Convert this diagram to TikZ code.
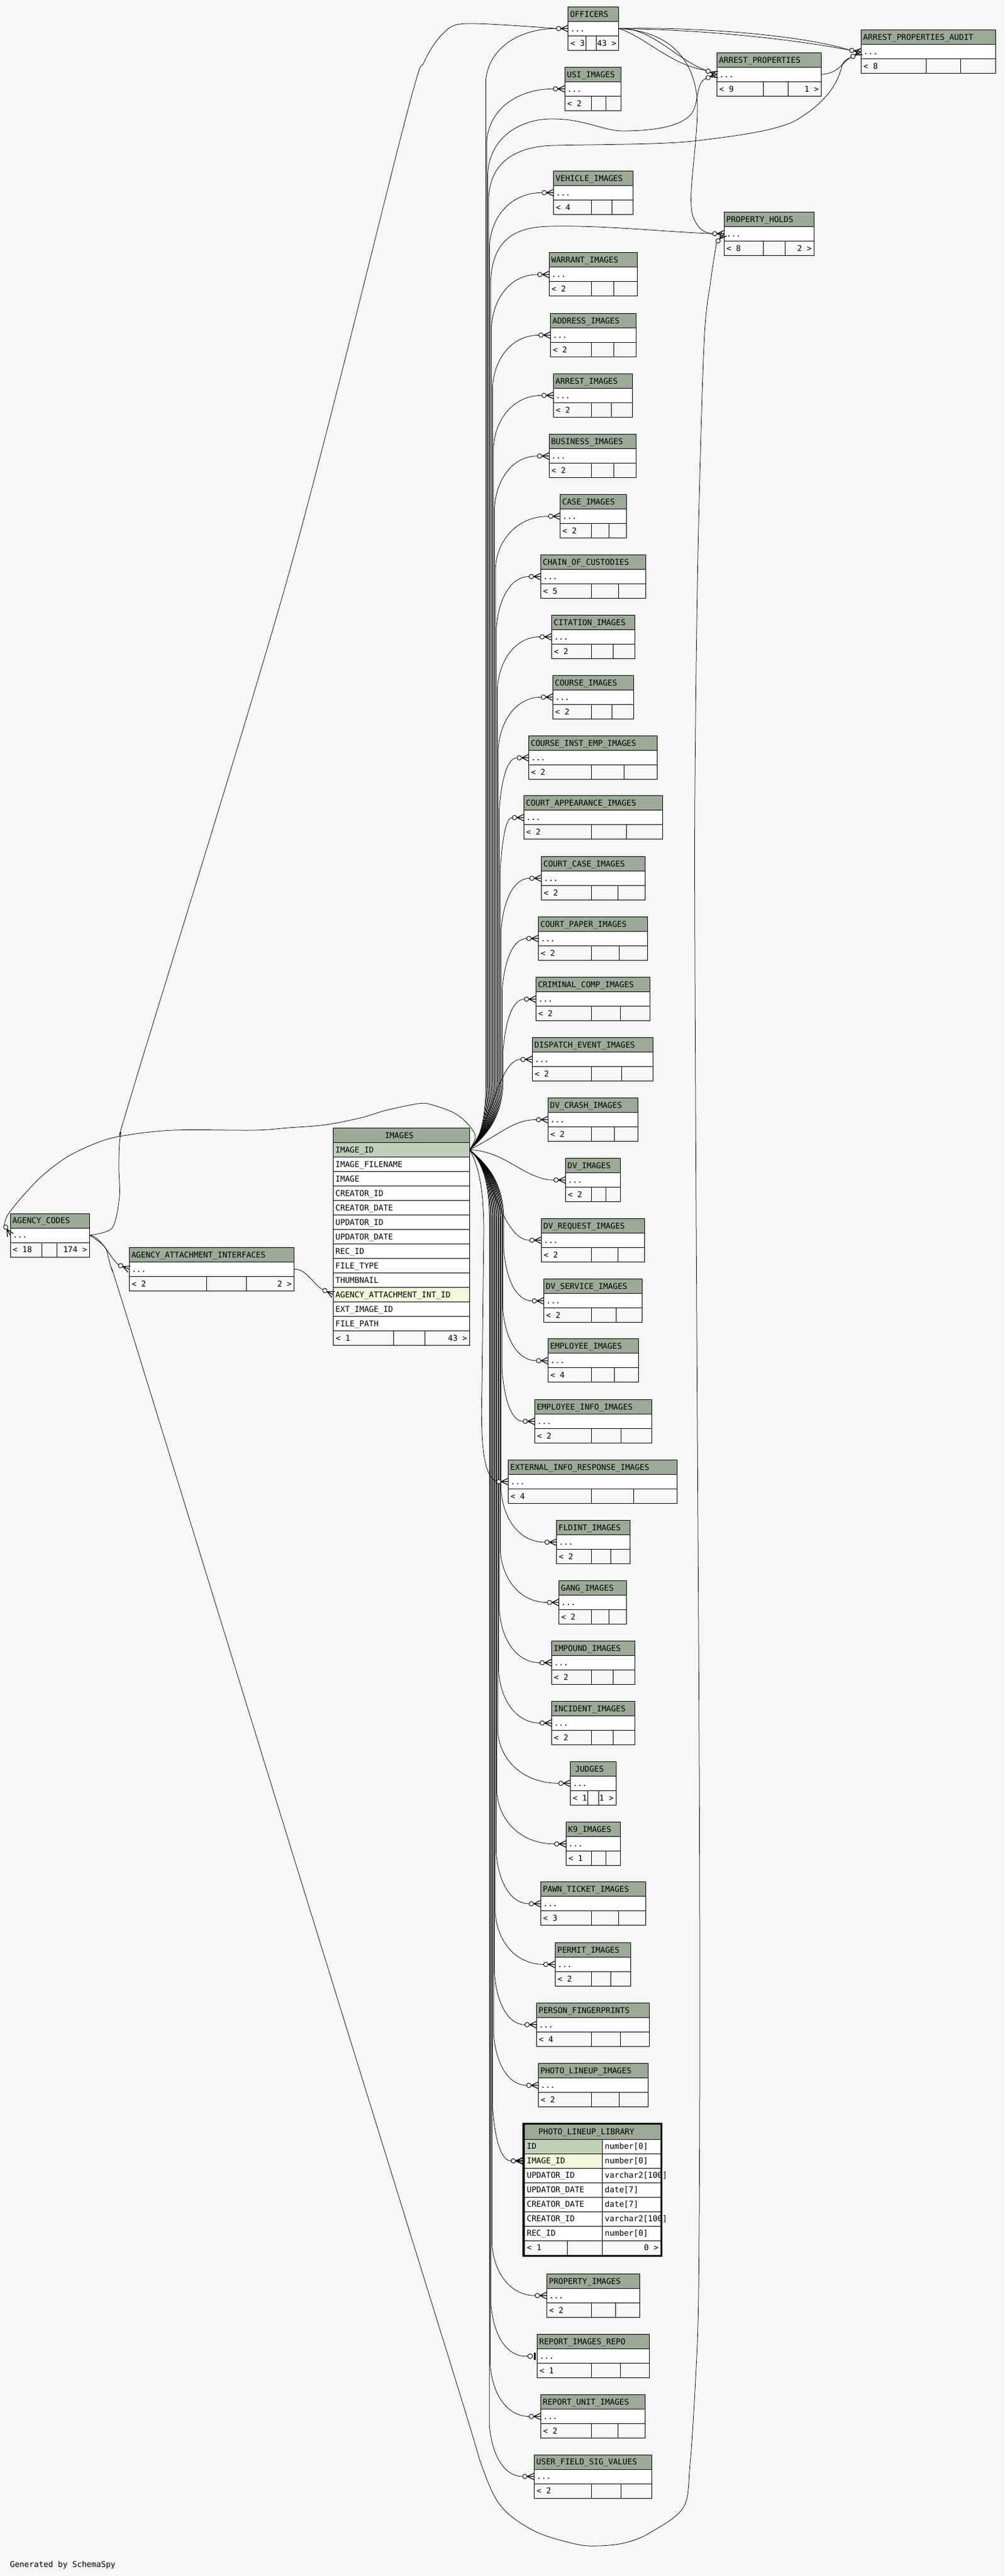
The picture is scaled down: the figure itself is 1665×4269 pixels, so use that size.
\documentclass[tikz,border=0pt]{standalone}
\usepackage{fontspec}
\newfontfamily\dmono{DejaVu Sans Mono}
\usetikzlibrary{calc}
\definecolor{bgc}{HTML}{F7F7F7}
\definecolor{hdrc}{HTML}{9BAB96}
\definecolor{pkc}{HTML}{BED1B8}
\definecolor{idxc}{HTML}{F4F7DA}
\pgfdeclarelayer{back}\pgfdeclarelayer{edges}\pgfsetlayers{back,edges,main}
\tikzset{
 fk/.style={line width=0.75pt, draw=black},
 cellb/.style={line width=1pt, draw=black},
 tt/.style={inner sep=0pt, outer sep=0pt, anchor=base west, font=\dmono\fontsize{13.2}{15}\selectfont},
 ttr/.style={tt, anchor=base east},
 crowodot/.pic={\draw[line width=0.9pt, fill=bgc] (-15.5,0) circle[radius=3.7]; \draw[line width=1.2pt] (-11.5,0) -- (0,5.5) (-11.5,0) -- (0,-5.5) (-11.5,0) -- (0,0);},
 boldcrow/.pic={\draw[line width=1pt, fill=bgc] (-15.5,0) circle[radius=3.7]; \draw[line width=2pt] (-11.5,0) -- (0,5) (-11.5,0) -- (0,-5) (-11.5,0) -- (0,0);},
 teeodot/.pic={\draw[line width=0.9pt] (-19.2,0) -- (-15.5,0); \draw[line width=0.9pt, fill=bgc] (-11.5,0) circle[radius=4]; \fill (-5,-6) rectangle (-2.5,6);}
}
% #1 key, #2 left, #3 right, #4 top, #5 title, #6 cell1 end, #7 cell2 end, #8 foot left, #9 foot right
\newcommand{\stbl}[9]{%
 \fill[hdrc] (#2,#4) rectangle (#3,#4+24);
 \fill[white] (#2,#4+24) rectangle (#3,#4+48);
 \draw[cellb] (#2,#4) rectangle (#3,#4+72) (#2,#4+24) -- (#3,#4+24) (#2,#4+48) -- (#3,#4+48) (#6,#4+48) -- (#6,#4+72) (#7,#4+48) -- (#7,#4+72);
 \node[tt] (#1-t) at (#2+3.5,#4+16.8) {#5};
 \node[tt] (#1-d) at (#2+4,#4+40.8) {...};
 \node[tt] (#1-fl) at (#2+4,#4+64.8) {#8};
 \node[ttr] (#1-fr) at (#3-4,#4+64.8) {#9};
 \coordinate (#1-in) at (#2,#4+36);
 \coordinate (#1-end) at (#2-19.2,#4+36);
 \coordinate (#1-out) at (#3,#4+36);
}
% upward / downward connectors from IMAGES.IMAGE_ID: #1 spine x, #2 target row y, #3 target key
\newcommand{\upE}[3]{\draw[fk] (img-port) .. controls (794,1890) and (#1,1862) .. (#1,1790) -- (#1,#2+85) .. controls (#1+4,#2+35) and ($(#1,#2)!0.45!(#3-end)$) .. (#3-end);}
\newcommand{\dnE}[3]{\draw[fk] (img-port) .. controls (794,1920) and (#1,1948) .. (#1,2020) -- (#1,#2-85) .. controls (#1+4,#2-35) and ($(#1,#2)!0.45!(#3-end)$) .. (#3-end);}
\begin{document}
\begin{tikzpicture}[x=1pt,y=-1pt]
\useasboundingbox (0,0) rectangle (1665,4269);
\begin{pgfonlayer}{back}
\fill[bgc] (0,0) rectangle (1665,4269);
\end{pgfonlayer}

% ---------------- tables ----------------
\stbl{officers}{941.5}{1025.7}{11.3}{OFFICERS}{971.1}{988.8}{< 3}{43 >}
\stbl{usi}{936.3}{1029.3}{111.3}{USI\_IMAGES}{980.5}{1004.4}{< 2}{}
\stbl{vehicle}{917.6}{1049.6}{283.3}{VEHICLE\_IMAGES}{980.5}{1014.8}{< 4}{}
\stbl{warrant}{910.3}{1056.3}{418.9}{WARRANT\_IMAGES}{980.3}{1017.7}{< 2}{}
\stbl{address}{912.3}{1054.3}{519.4}{ADDRESS\_IMAGES}{980.3}{1017.3}{< 2}{}
\stbl{arrest}{917.3}{1048.3}{619.3}{ARREST\_IMAGES}{980.3}{1013.3}{< 2}{}
\stbl{business}{910.0}{1054.3}{719.8}{BUSINESS\_IMAGES}{980.3}{1017.7}{< 2}{}
\stbl{case}{928.3}{1038.3}{819.6}{CASE\_IMAGES}{980.3}{1009.3}{< 2}{}
\stbl{chain}{896.3}{1070.3}{919.5}{CHAIN\_OF\_CUSTODIES}{980.3}{1025.3}{< 5}{}
\stbl{citation}{914.3}{1052.3}{1019.4}{CITATION\_IMAGES}{980.3}{1016.3}{< 2}{}
\stbl{course}{916.3}{1050.3}{1119.3}{COURSE\_IMAGES}{980.3}{1014.3}{< 2}{}
\stbl{courseinst}{876.3}{1089.3}{1219.8}{COURSE\_INST\_EMP\_IMAGES}{980.3}{1034.3}{< 2}{}
\stbl{courtapp}{868.3}{1098.3}{1318.9}{COURT\_APPEARANCE\_IMAGES}{980.3}{1038.3}{< 2}{}
\stbl{courtcase}{897.3}{1069.3}{1419.4}{COURT\_CASE\_IMAGES}{980.3}{1024.3}{< 2}{}
\stbl{courtpaper}{892.3}{1073.3}{1519.3}{COURT\_PAPER\_IMAGES}{980.3}{1026.3}{< 2}{}
\stbl{criminal}{888.3}{1077.3}{1619.8}{CRIMINAL\_COMP\_IMAGES}{980.3}{1028.3}{< 2}{}
\stbl{dispatch}{882.3}{1082.3}{1719.6}{DISPATCH\_EVENT\_IMAGES}{980.3}{1030.3}{< 2}{}
\stbl{dvcrash}{908.3}{1057.3}{1819.5}{DV\_CRASH\_IMAGES}{980.3}{1018.7}{< 2}{}
\stbl{dvimages}{937.3}{1028.3}{1919.4}{DV\_IMAGES}{980.3}{1004.3}{< 2}{}
\stbl{dvrequest}{897.3}{1068.3}{2019.3}{DV\_REQUEST\_IMAGES}{980.3}{1024.3}{< 2}{}
\stbl{dvservice}{901.3}{1064.3}{2119.8}{DV\_SERVICE\_IMAGES}{980.3}{1021.3}{< 2}{}
\stbl{employee}{908.3}{1058.3}{2218.9}{EMPLOYEE\_IMAGES}{980.3}{1018.7}{< 4}{}
\stbl{empinfo}{886.3}{1080.3}{2319.4}{EMPLOYEE\_INFO\_IMAGES}{980.3}{1029.3}{< 2}{}
\stbl{external}{842.3}{1122.3}{2419.3}{EXTERNAL\_INFO\_RESPONSE\_IMAGES}{980.3}{1050.3}{< 4}{}
\stbl{fldint}{922.3}{1044.3}{2519.8}{FLDINT\_IMAGES}{980.3}{1012.3}{< 2}{}
\stbl{gang}{926.3}{1038.3}{2619.6}{GANG\_IMAGES}{980.3}{1009.3}{< 2}{}
\stbl{impound}{914.3}{1052.3}{2719.5}{IMPOUND\_IMAGES}{980.3}{1016.3}{< 2}{}
\stbl{incident}{914.3}{1052.3}{2819.4}{INCIDENT\_IMAGES}{980.3}{1016.3}{< 2}{}
\stbl{judges}{945.3}{1021.3}{2919.3}{\hspace*{4.5pt}JUDGES}{974.3}{992.3}{< 1}{1 >}
\stbl{k9}{938.3}{1028.3}{3019.8}{K9\_IMAGES}{980.3}{1004.3}{< 1}{}
\stbl{pawn}{896.3}{1070.3}{3118.9}{PAWN\_TICKET\_IMAGES}{980.3}{1025.3}{< 3}{}
\stbl{permit}{920.3}{1045.3}{3219.4}{PERMIT\_IMAGES}{980.3}{1012.3}{< 2}{}
\stbl{personfp}{889.3}{1076.3}{3319.3}{PERSON\_FINGERPRINTS}{980.3}{1028.3}{< 4}{}
\stbl{plimages}{892.3}{1074.3}{3419.8}{PHOTO\_LINEUP\_IMAGES}{980.3}{1026.3}{< 2}{}
\stbl{propimages}{906.3}{1060.3}{3768.2}{PROPERTY\_IMAGES}{980.3}{1020.3}{< 2}{}
\stbl{repimages}{890.3}{1076.3}{3868.7}{REPORT\_IMAGES\_REPO}{980.3}{1028.3}{< 1}{}
\stbl{repunit}{896.3}{1069.3}{3968.5}{REPORT\_UNIT\_IMAGES}{980.3}{1024.3}{< 2}{}
\stbl{userfield}{885.6}{1080.4}{4068}{USER\_FIELD\_SIG\_VALUES}{980.3}{1029.8}{< 2}{}
\stbl{ap}{1188.4}{1361.4}{87.3}{ARREST\_PROPERTIES}{1265.3}{1306.3}{< 9}{1 >}
\stbl{audit}{1427.4}{1650.4}{49.7}{ARREST\_PROPERTIES\_AUDIT}{1535.6}{1592.7}{< 8}{}
\stbl{ph}{1200.3}{1349.5}{351.3}{PROPERTY\_HOLDS}{1265.3}{1301.7}{< 8}{2 >}
\stbl{agency}{17.2}{148.5}{2011}{AGENCY\_CODES}{69.3}{94.5}{< 18}{174 >}
\stbl{aai}{214.3}{487.6}{2067.3}{AGENCY\_ATTACHMENT\_INTERFACES}{342.5}{408.3}{< 2}{2 >}

% IMAGES table
\fill[hdrc] (552.6,1869.3) rectangle (778.4,1893.3);
\fill[white] (552.6,1893.3) rectangle (778.4,2205.3);
\fill[pkc] (552.6,1893.3) rectangle (778.4,1917.3);
\fill[idxc] (552.6,2133.3) rectangle (778.4,2157.3);
\draw[cellb] (552.6,1869.3) rectangle (778.4,2229.3);
\foreach \k in {1,...,14} \draw[cellb] (552.6,1869.3+24*\k) -- (778.4,1869.3+24*\k);
\draw[cellb] (652.5,2205.3) -- (652.5,2229.3) (704.6,2205.3) -- (704.6,2229.3);
\node[tt] (img-t) at (638,1886.1) {IMAGES};
\foreach \txt [count=\i] in {IMAGE\_ID,IMAGE\_FILENAME,IMAGE,CREATOR\_ID,CREATOR\_DATE,UPDATOR\_ID,UPDATOR\_DATE,REC\_ID,FILE\_TYPE,THUMBNAIL,AGENCY\_ATTACHMENT\_INT\_ID,EXT\_IMAGE\_ID,FILE\_PATH}
  \node[tt] (img-r\i) at (556.1,1886.1+24*\i) {\txt};
\node[tt] (img-fl) at (556.6,2222.1) {< 1};
\node[ttr] (img-fr) at (774.4,2222.1) {43 >};
\coordinate (img-port) at (778.4,1905.3);
\coordinate (img-aai-in) at (552.6,2145.3);

% PHOTO_LINEUP_LIBRARY table
\fill[hdrc] (869.7,3521) rectangle (1095,3545);
\fill[white] (869.7,3545) rectangle (1095,3713);
\fill[pkc] (869.7,3545) rectangle (998.3,3569);
\fill[idxc] (869.7,3569) rectangle (998.3,3593);
\foreach \k in {0,...,7} \draw[cellb] (869.7,3545+24*\k) -- (1095,3545+24*\k);
\draw[cellb] (998.3,3545) -- (998.3,3737) (940.3,3713) -- (940.3,3737);
\node[tt] (pll-t) at (892.7,3537.8) {PHOTO\_LINEUP\_LIBRARY};
\foreach \txt/\typ [count=\i] in {ID/number[0],IMAGE\_ID/number[0],UPDATOR\_ID/varchar2[100],UPDATOR\_DATE/date[7],CREATOR\_DATE/date[7],CREATOR\_ID/varchar2[100],REC\_ID/number[0]}
  {\node[tt] (pll-c\i) at (873.3,3537.8+24*\i) {\txt};
   \node[tt] (pll-y\i) at (1002.7,3537.8+24*\i) {\typ};}
\node[tt] (pll-fl) at (873.7,3729.8) {< 1};
\node[ttr] (pll-fr) at (1091.5,3729.8) {0 >};
\draw[line width=3.2pt] (868,3519.4) rectangle (1096.6,3738.6);
\coordinate (pll-in) at (866.4,3581);
\coordinate (pll-end) at (847.2,3581);

\node[tt] (gen) at (16.6,4254) {Generated by SchemaSpy};

% special end points
\coordinate (ap-endU) at (1170.4,116.7);
\coordinate (ap-endL) at (1170.4,129.9);
\coordinate (audit-endU) at (1408.4,83.0);
\coordinate (audit-endL) at (1410.8,95.3);
\coordinate (ph-endL) at (1181.1,387.3);
\coordinate (ph-endB) at (1188.0,402.0);
\coordinate (agency-endL) at (7.6,2030.7);
\coordinate (aai-endR) at (196.5,2096.1);
\coordinate (img-aai-end) at (535.2,2137.2);

% ---------------- connectors ----------------
\begin{pgfonlayer}{edges}
\upE{834}{1655.8}{criminal}
\upE{832.4}{1555.3}{courtpaper}
\upE{830.8}{1455.4}{courtcase}
\upE{829.2}{1354.9}{courtapp}
\upE{827.6}{1255.8}{courseinst}
\upE{826}{1155.3}{course}
\upE{824.4}{1055.4}{citation}
\upE{822.8}{955.5}{chain}
\upE{821.2}{855.6}{case}
\upE{819.6}{755.8}{business}
\upE{818}{655.3}{arrest}
\upE{816.4}{555.4}{address}
\upE{814.8}{454.9}{warrant}
\upE{811.6}{319.3}{vehicle}
\upE{807}{147.3}{usi}
\upE{805.5}{47.3}{officers}
% IMAGES -> ARREST_PROPERTIES
\draw[fk] (img-port) .. controls (794,1890) and (808.5,1862) .. (808.5,1790) -- (808.5,290) .. controls (810,230) and (860,197) .. (915,197) .. controls (970,197) and (1000,217) .. (1032,217) .. controls (1075,217) and (1125,212) .. (1145,190) .. controls (1160,172) and (1152,138) .. (ap-endL);
% IMAGES -> ARREST_PROPERTIES_AUDIT
\draw[fk] (img-port) .. controls (794,1890) and (810,1862) .. (810,1790) -- (810,330) .. controls (811.5,265) and (860,242) .. (920,241) .. controls (1000,239) and (1100,240) .. (1157,233) .. controls (1230,224) and (1290,216) .. (1322,198) .. controls (1368,170) and (1388,140) .. (1395,112) .. controls (1398,100) and (1403,98) .. (audit-endL);
% IMAGES -> PROPERTY_HOLDS
\draw[fk] (img-port) .. controls (794,1890) and (813.2,1862) .. (813.2,1790) -- (813.2,470) .. controls (815,400) and (850,376) .. (912,375) .. controls (1000,373) and (1100,384) .. (ph-endL);
% near ones
\draw[fk] (img-port) .. controls (815,1860) and (828,1755.6) .. (dispatch-end);
\draw[fk] (img-port) .. controls (830,1880) and (850,1855.5) .. (dvcrash-end);
\draw[fk] (img-port) .. controls (840,1908) and (870,1955.4) .. (dvimages-end);
\draw[fk] (img-port) .. controls (812,1925) and (830,2055.3) .. (dvrequest-end);
% downward
\dnE{835}{2155.8}{dvservice}
\dnE{833.6}{2254.9}{employee}
\dnE{832.2}{2355.4}{empinfo}
\draw[fk] (img-port) .. controls (790,1925) and (802,1960) .. (802,2040) -- (799,2300) .. controls (796,2400) and (803,2447) .. (external-end);
\dnE{830.8}{2555.8}{fldint}
\dnE{829.4}{2655.6}{gang}
\dnE{828}{2755.5}{impound}
\dnE{826.6}{2855.4}{incident}
\dnE{825.2}{2955.3}{judges}
\dnE{823.8}{3055.8}{k9}
\dnE{822.4}{3154.9}{pawn}
\dnE{821}{3255.4}{permit}
\dnE{819.6}{3355.3}{personfp}
\dnE{818.2}{3455.8}{plimages}
\dnE{816.8}{3581}{pll}
\dnE{815.4}{3804.2}{propimages}
\dnE{814}{3904.7}{repimages}
\dnE{812.6}{4004.5}{repunit}
\dnE{811.2}{4104}{userfield}
% OFFICERS -> ARREST_PROPERTIES (2), -> AUDIT (2), -> PROPERTY_HOLDS
\draw[fk] (officers-out) .. controls (1080,45) and (1120,98) .. (ap-endU);
\draw[fk] (officers-out) .. controls (1068,60) and (1112,108) .. (ap-endU);
\draw[fk] (officers-out) .. controls (1150,44) and (1330,58) .. (audit-endU);
\draw[fk] (officers-out) .. controls (1200,50) and (1340,70) .. (audit-endU);
\draw[fk] (officers-out) .. controls (1120,52) and (1158,110) .. (1156,185) .. controls (1154,260) and (1138,335) .. (1150,362) .. controls (1158,380) and (1168,386) .. (ph-endL);
% ARREST_PROPERTIES -> AUDIT
\draw[fk] (ap-out) .. controls (1392,122) and (1398,100) .. (audit-endL);
% AGENCY_CODES -> OFFICERS
\draw[fk] plot[smooth, tension=0.5] coordinates {(agency-out) (186,2035) (198,1983) (197,1933) (200,1880) (222,1800) (479,950) (673,194) (703,103) (734,56) (773,39) (officers-end)};
% AGENCY_CODES -> PROPERTY_HOLDS
\draw[fk] plot[smooth, tension=0.55] coordinates {(agency-out) (174,2067) (184,2100) (216,2200) (486,3075) (757,3950) (800,4090) (832,4155) (887,4195) (954,4216) (992,4219) (1036,4214) (1078,4197) (1133,4155) (1144,4083) (1152.6,3950) (1158,3800) (1160,3400) (1159,2900) (1155,2200) (1152,1600) (1152,1300) (1157,917) (1167,572) (1178,466) (ph-endB)};
% IMAGES -> AGENCY_CODES
\draw[fk] plot[smooth, tension=0.55] coordinates {(img-port) (788,1883) (773,1860) (750,1843) (713,1830) (693,1829) (640,1840) (600,1852) (540,1864) (478,1869) (421,1873) (287,1873) (199,1883) (153,1897) (107,1920) (61,1957) (15,2010) (agency-endL)};
% AGENCY_CODES -> AGENCY_ATTACHMENT_INTERFACES -> IMAGES
\draw[fk] (agency-out) .. controls (168,2049) and (183,2085) .. (aai-endR);
\draw[fk] (aai-out) .. controls (508,2102) and (520,2130) .. (img-aai-end);
\end{pgfonlayer}

% ---------------- ends ----------------
\foreach \t in {officers,usi,vehicle,warrant,address,arrest,business,case,chain,citation,course,courseinst,courtapp,courtcase,courtpaper,criminal,dispatch,dvcrash,dvimages,dvrequest,dvservice,employee,empinfo,external,fldint,gang,impound,incident,judges,k9,pawn,permit,personfp,plimages,propimages,repunit,userfield}
  \pic at (\t-in) {crowodot};
\pic at (repimages-in) {teeodot};
\pic at (pll-in) {boldcrow};
\pic[rotate=-20] at (ap-in) {crowodot};
\pic[rotate=20] at (ap-in) {crowodot};
\pic[rotate=-8] at (audit-in) {crowodot};
\pic[rotate=30] at (audit-in) {crowodot};
\pic at (ph-in) {crowodot};
\pic[rotate=50] at (ph-in) {crowodot};
\pic[rotate=-60] at (agency-in) {crowodot};
\pic[rotate=-22] at (aai-in) {crowodot};
\pic[rotate=-25] at (img-aai-in) {crowodot};
\end{tikzpicture}
\end{document}
